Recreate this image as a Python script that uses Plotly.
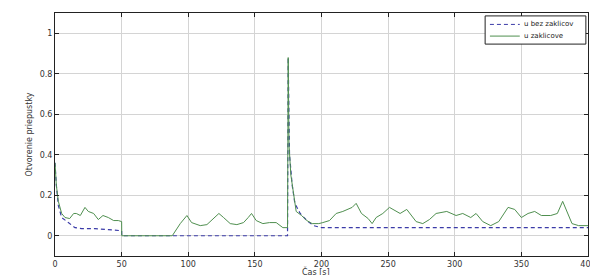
import plotly.graph_objects as go

# Solid series "u zaklicove"
t_solid = [0, 1, 2.5, 5, 7.5, 11, 14, 16, 19, 22.5, 25, 29, 32.5, 36, 40, 44, 47.5, 50, 50.1,
           88, 94, 99, 102.5, 109, 114, 119, 123, 126.5, 131.5, 136.5, 141.5, 145, 147.5, 151,
           156, 161, 166, 171, 174.5, 175, 175.6, 177, 179, 181, 185, 189, 193, 198, 201, 206,
           211, 216, 223, 226, 230, 235, 238, 241, 246, 251, 259, 264, 271, 276, 281, 286, 294,
           301, 306, 312, 316, 321, 327, 333, 340, 345, 350, 355, 360, 365, 372, 377, 381, 388,
           393, 400]
v_solid = [0.36, 0.25, 0.17, 0.11, 0.09, 0.085, 0.11, 0.11, 0.1, 0.14, 0.12, 0.11, 0.08, 0.1,
           0.09, 0.075, 0.075, 0.07, 0.0,
           0.0, 0.06, 0.1, 0.065, 0.05, 0.055, 0.085, 0.11, 0.09, 0.06, 0.055, 0.065, 0.09, 0.11,
           0.075, 0.06, 0.065, 0.065, 0.04, 0.04, 0.88, 0.45, 0.3, 0.22, 0.12, 0.1, 0.075, 0.06,
           0.06, 0.065, 0.075, 0.11, 0.12, 0.14, 0.16, 0.11, 0.085, 0.06, 0.09, 0.11, 0.14, 0.11,
           0.13, 0.07, 0.06, 0.08, 0.11, 0.12, 0.1, 0.11, 0.09, 0.11, 0.07, 0.05, 0.07, 0.14, 0.13,
           0.09, 0.11, 0.12, 0.1, 0.1, 0.11, 0.17, 0.06, 0.05, 0.05]

# Dashed series "u bez zaklicov"
t_dash = [0, 1, 2.5, 5, 10, 15, 20, 30, 40, 47.5, 50, 50.1, 174.5, 175, 176, 178, 180, 184,
          189, 194, 200, 250, 300, 350, 400]
v_dash = [0.36, 0.25, 0.15, 0.09, 0.065, 0.04, 0.035, 0.035, 0.03, 0.025, 0.025, 0.0, 0.0,
          0.88, 0.4, 0.25, 0.16, 0.11, 0.075, 0.05, 0.04, 0.04, 0.04, 0.04, 0.04]

series_names = ["u bez zaklicov", "u zaklicove"]
series_colors = ["#3b3ba8", "#4f8f4f"]
series_dash = ["4px,3px", "solid"]

x_ticks = [0, 50, 100, 150, 200, 250, 300, 350, 400]
x_tick_labels = ["0", "50", "100", "150", "200", "250", "300", "350", "400"]
y_ticks = [0, 0.2, 0.4, 0.6, 0.8, 1]
y_tick_labels = ["0", "0.2", "0.4", "0.6", "0.8", "1"]
x_title = "Čas [s]"
y_title = "Otvorenie priepustky"

fig = go.Figure()
fig.add_trace(go.Scatter(x=t_dash, y=v_dash, mode="lines", name=series_names[0], showlegend=False,
                         line=dict(color=series_colors[0], width=1.2, dash=series_dash[0])))
fig.add_trace(go.Scatter(x=t_solid, y=v_solid, mode="lines", name=series_names[1], showlegend=False,
                         line=dict(color=series_colors[1], width=1, dash=series_dash[1])))

# Legend box (MATLAB style), drawn in paper coordinates
fig.add_shape(type="rect", xref="paper", yref="paper", x0=0.807, x1=0.996, y0=0.872, y1=0.988,
              line=dict(color="#222", width=1), fillcolor="white", layer="above")
legend_y = [0.953, 0.905]
for name, color, dash, ly in zip(series_names, series_colors, series_dash, legend_y):
    fig.add_shape(type="line", xref="paper", yref="paper", x0=0.816, x1=0.872, y0=ly, y1=ly,
                  line=dict(color=color, width=1, dash=dash), layer="above")
    fig.add_annotation(xref="paper", yref="paper", x=0.876, y=ly, text=name, showarrow=False,
                       xanchor="left", yanchor="middle",
                       font=dict(family="DejaVu Sans", size=7, color="#222"))

# x-axis title, placed low like the reference (partly cut by the bottom edge)
fig.add_annotation(xref="paper", yref="paper", x=0.49, y=-0.064, text=x_title, showarrow=False,
                   xanchor="center", yanchor="middle",
                   font=dict(family="DejaVu Sans", size=8, color="#333"))

axis_common = dict(showgrid=True, gridcolor="#d4d4d4", gridwidth=1, zeroline=False,
                   showline=True, linecolor="#222", linewidth=1, mirror="ticks",
                   ticks="inside", ticklen=4, tickcolor="#222", automargin=False,
                   ticklabeloverflow="allow",
                   tickfont=dict(family="DejaVu Sans", size=8, color="#333"))

fig.update_layout(
    width=590, height=275,
    margin=dict(l=55, r=2, t=13, b=19),
    paper_bgcolor="white", plot_bgcolor="white",
    showlegend=False,
    xaxis=dict(range=[0, 400], tickvals=x_ticks, ticktext=x_tick_labels, **axis_common),
    yaxis=dict(range=[-0.1, 1.1], tickvals=y_ticks, ticktext=y_tick_labels,
               title=dict(text=y_title, font=dict(family="DejaVu Sans", size=8, color="#333"),
                          standoff=5),
               **axis_common),
)

fig.write_html("out.html", config={"displayModeBar": False},
               post_script="document.body.style.margin='0';")
